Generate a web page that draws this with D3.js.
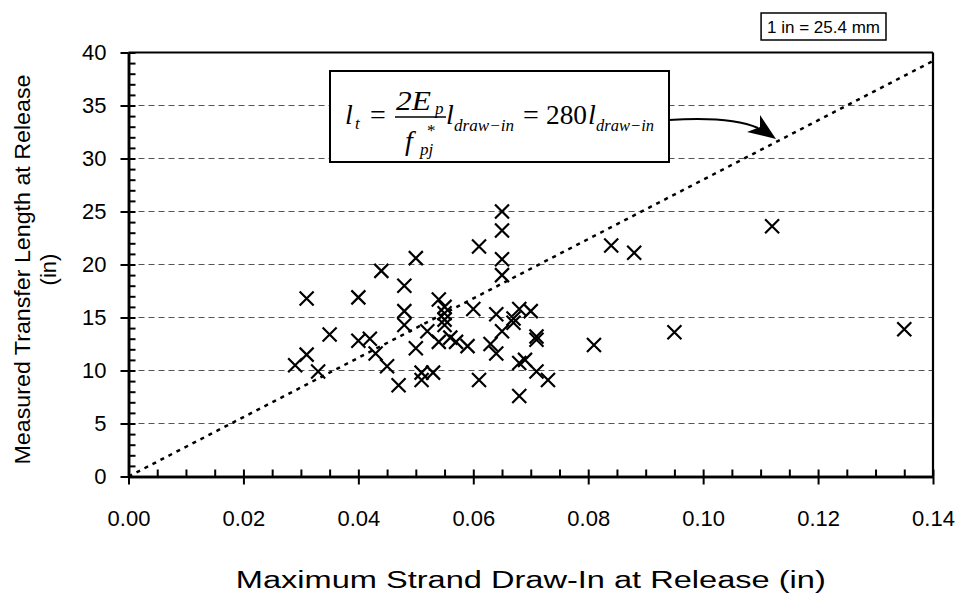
<!DOCTYPE html>
<html><head><meta charset="utf-8">
<script src="https://cdn.jsdelivr.net/npm/d3@7"></script>
<style>body{margin:0;background:#fff} svg{display:block}</style>
</head><body>
<svg id="chart" width="962" height="604"></svg>
<script>
// ---- data ----
const drawIn = [0.029,0.031,0.033,0.031,0.035,0.040,0.040,0.042,0.043,0.044,0.045,0.047,0.048,0.048,0.048,0.050,0.050,0.052,0.051,0.051,0.053,0.054,0.054,0.055,0.055,0.055,0.055,0.056,0.057,0.059,0.060,0.061,0.061,0.063,0.064,0.065,0.065,0.065,0.065,0.065,0.064,0.067,0.067,0.068,0.070,0.071,0.071,0.068,0.069,0.071,0.073,0.068,0.081,0.084,0.088,0.095,0.112,0.135];
const transfer = [10.5,11.5,9.9,16.8,13.4,16.9,12.8,13.0,11.6,19.4,10.4,8.6,18.0,15.6,14.3,20.6,12.1,13.7,9.8,9.1,9.8,12.7,16.7,16.0,15.4,14.8,14.3,13.1,12.7,12.3,15.8,21.7,9.1,12.5,15.3,25.0,23.2,20.5,19.0,13.7,11.6,14.9,14.5,15.8,15.6,13.2,12.9,10.7,11.0,9.9,9.1,7.6,12.4,21.8,21.1,13.6,23.6,13.9];
const xTickValues = [0,0.02,0.04,0.06,0.08,0.10,0.12,0.14];
const xTickLabels = ["0.00","0.02","0.04","0.06","0.08","0.10","0.12","0.14"];
const yTickValues = [0,5,10,15,20,25,30,35,40];
const trendSlope = 280;
const trendX = [0,0.14];
const xTitle = "Maximum Strand Draw-In at Release (in)";
const yTitle = ["Measured Transfer Length at Release","(in)"];
const unitNote = "1 in = 25.4 mm";

// ---- layout ----
const svg = d3.select("#chart");
const L = 128.5, R = 933, T = 52.5, B = 476.5;
const x = d3.scaleLinear().domain([0,0.14]).range([L,R]);
const y = d3.scaleLinear().domain([0,40]).range([B,T]);
const sans = "'Liberation Sans', Arial, sans-serif";
const serif = "'Liberation Serif', 'Times New Roman', serif";

// gridlines
svg.append("g").selectAll("line").data(yTickValues.filter(v=>v>0 && v<40)).join("line")
  .attr("x1",L).attr("x2",R).attr("y1",d=>y(d)).attr("y2",d=>y(d))
  .attr("stroke","#555").attr("stroke-width",1.2).attr("stroke-dasharray","6,4");

// top & right frame
svg.append("line").attr("x1",L).attr("x2",R).attr("y1",y(40)).attr("y2",y(40)).attr("stroke","#000").attr("stroke-width",2.2);
svg.append("line").attr("x1",x(0.14)).attr("x2",x(0.14)).attr("y1",y(40)).attr("y2",y(0)).attr("stroke","#000").attr("stroke-width",2.2);

// trend line
const line = d3.line().x(d=>x(d)).y(d=>y(trendSlope*d));
svg.append("path").attr("d",line(trendX)).attr("fill","none").attr("stroke","#000")
  .attr("stroke-width",2.5).attr("stroke-dasharray","4,5");

// markers
const s = 7;
svg.append("g").selectAll("path").data(drawIn.map((d,i)=>[d,transfer[i]])).join("path")
  .attr("d",d=>{const cx=x(d[0]), cy=y(d[1]);return `M${cx-s},${cy-s}L${cx+s},${cy+s}M${cx-s},${cy+s}L${cx+s},${cy-s}`;})
  .attr("stroke","#000").attr("stroke-width",2.2).attr("fill","none");

// axes
const yMinor = d3.range(0,41,1);
const xMinor = d3.range(0,0.1401,0.005);
const gy = svg.append("g").attr("transform",`translate(${L},0)`);
gy.call(d3.axisLeft(y).tickValues(yTickValues).tickSize(8).tickSizeOuter(0).tickPadding(14).tickFormat(d3.format("d")));
const gy2 = svg.append("g").attr("transform",`translate(${L},0)`);
gy2.call(d3.axisRight(y).tickValues(yMinor).tickSize(7).tickSizeOuter(0).tickFormat(""));
const gx = svg.append("g").attr("transform",`translate(0,${B})`);
gx.call(d3.axisBottom(x).tickValues(xTickValues).tickSize(8).tickSizeOuter(0).tickPadding(26).tickFormat((d,i)=>xTickLabels[i]));
const gx2 = svg.append("g").attr("transform",`translate(0,${B})`);
gx2.call(d3.axisTop(x).tickValues(xMinor).tickSize(7).tickSizeOuter(0).tickFormat(""));
[gy,gy2,gx,gx2].forEach(g=>{
  g.select(".domain").attr("stroke","#000").attr("stroke-width",2.5);
  g.selectAll(".tick line").attr("stroke","#000").attr("stroke-width",2);
  g.selectAll(".tick text").attr("font-family",sans).attr("font-size",22).attr("fill","#000");
});

// axis titles
svg.append("text").attr("x",(L+R)/2).attr("y",588).attr("text-anchor","middle")
  .attr("font-family",sans).attr("font-size",23)
  .attr("textLength",590).attr("lengthAdjust","spacingAndGlyphs").text(xTitle);
const yt = svg.append("text").attr("transform",`translate(30,${(T+B)/2+5}) rotate(-90)`)
  .attr("text-anchor","middle").attr("font-family",sans).attr("font-size",22);
yt.append("tspan").attr("x",0).attr("y",0).attr("textLength",390).attr("lengthAdjust","spacingAndGlyphs").text(yTitle[0]);
yt.append("tspan").attr("x",0).attr("y",26).text(yTitle[1]);

// unit note box
const ug = svg.append("g");
const ur = ug.append("rect");
const un = ug.append("text").attr("x",880).attr("y",33).attr("text-anchor","end").attr("font-family",sans).attr("font-size",17).text(unitNote);
const bb = un.node().getBBox();
ur.attr("x",bb.x-6).attr("y",13).attr("width",bb.width+12).attr("height",27).attr("fill","#fff").attr("stroke","#000").attr("stroke-width",1.5);

// equation box
svg.append("rect").attr("x",330).attr("y",71).attr("width",339).attr("height",91).attr("fill","#fff").attr("stroke","#000").attr("stroke-width",2);
const eq = svg.append("g").attr("font-family",serif).attr("fill","#000");
const fs = 28, ss = 17;
function t(xp,yp,str,size,italic,len){const e=eq.append("text").attr("x",xp).attr("y",yp).attr("font-size",size).attr("font-style",italic?"italic":"normal").text(str); if(len) e.attr("textLength",len).attr("lengthAdjust","spacingAndGlyphs");}
t(345,124,"l",fs,true); t(355,129,"t",ss,true);
t(370,124,"=",fs,false);
t(396,110,"2E",fs,true,35); t(435,114,"p",ss,true);
eq.append("line").attr("x1",395).attr("x2",446).attr("y1",117).attr("y2",117).attr("stroke","#000").attr("stroke-width",1.3);
t(405,150,"f",fs,true); t(427,136,"*",ss,false); t(420,155,"pj",ss,true);
t(446,124,"l",fs,true); t(454,131,"draw\u2212in",ss,true,60);
t(523,124,"=",fs,false);
t(546,124,"280",fs,false,41); t(588,124,"l",fs,true); t(596,131,"draw\u2212in",ss,true,58);

// arrow
svg.append("path").attr("d","M669,120 C700,118 735,118 758,128").attr("fill","none").attr("stroke","#000").attr("stroke-width",2);
svg.append("path").attr("d","M776,139 L760,115 L760,127 L747,132 Z").attr("fill","#000");
</script>
</body></html>
